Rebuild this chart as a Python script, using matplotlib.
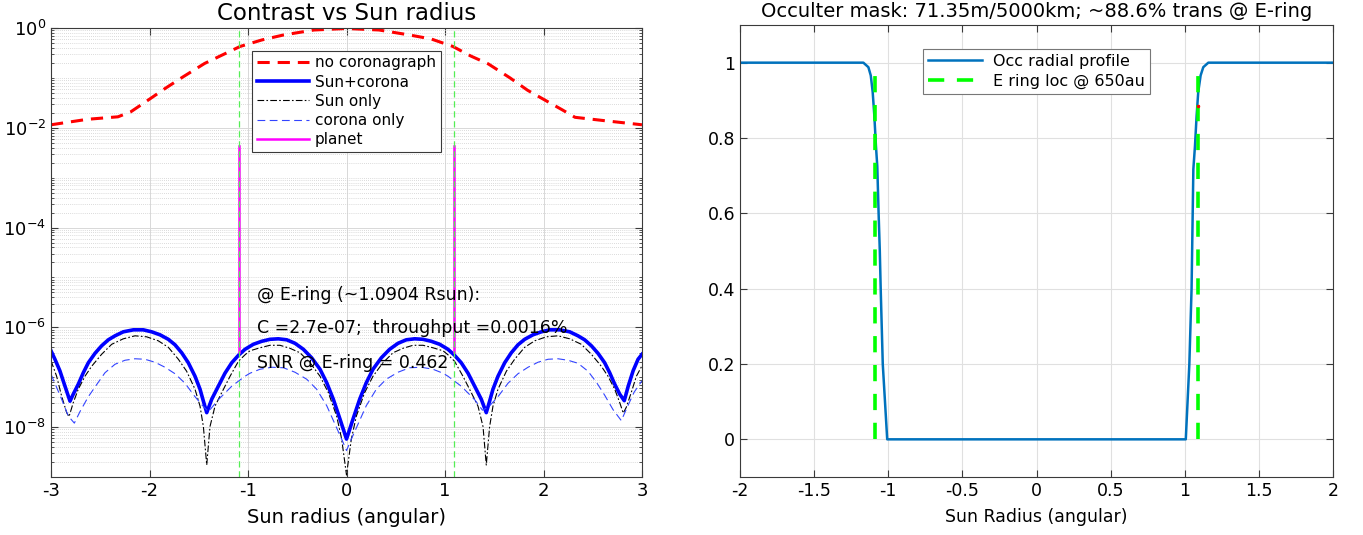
import numpy as np
import matplotlib.pyplot as plt
from matplotlib.ticker import FixedLocator, LogLocator, NullFormatter, FormatStrFormatter

plt.rcParams['font.family'] = 'DejaVu Sans'
plt.rcParams['axes.unicode_minus'] = False

# ---- left panel: contrast vs sun radius (values are log10 of contrast) ----
e_ring = 1.0904

x_nocor = [-3.0, -2.63, -2.32, -2.19, -2.01, -1.84, -1.66, -1.44, -1.26, -1.08, -0.86, -0.64, -0.33,
           0.0, 0.33, 0.64, 0.86, 1.08, 1.26, 1.44, 1.66, 1.84, 2.01, 2.19, 2.32, 2.63, 3.0]
log_nocor = [-1.94, -1.83, -1.78, -1.68, -1.44, -1.21, -0.98, -0.71, -0.54, -0.37, -0.24, -0.14, -0.04,
             -0.01, -0.04, -0.14, -0.22, -0.37, -0.56, -0.72, -1.0, -1.25, -1.44, -1.64, -1.79, -1.86, -1.94]

# Sun+corona
x_total = [-3.0, -2.96, -2.91, -2.858, -2.807, -2.774, -2.723, -2.672, -2.621, -2.553, -2.486, -2.418,
           -2.35, -2.266, -2.164, -2.063, -1.978, -1.893, -1.809, -1.741, -1.673, -1.606, -1.538,
           -1.487, -1.453, -1.419, -1.368, -1.301, -1.234, -1.165, -1.097, -1.03, -0.946, -0.861,
           -0.777, -0.692, -0.607, -0.523, -0.438, -0.354, -0.269, -0.201, -0.134, -0.066, 0.0,
           0.066, 0.134, 0.201, 0.269, 0.354, 0.438, 0.523, 0.607, 0.692, 0.777, 0.861, 0.946,
           1.03, 1.097, 1.165, 1.234, 1.301, 1.368, 1.419, 1.453, 1.487, 1.538, 1.606, 1.673,
           1.741, 1.809, 1.893, 1.978, 2.063, 2.164, 2.266, 2.35, 2.418, 2.486, 2.553, 2.621,
           2.672, 2.723, 2.774, 2.82, 2.86, 2.91, 2.96, 3.0]
log_total = [-6.47, -6.64, -6.87, -7.18, -7.48, -7.34, -7.14, -6.91, -6.71, -6.52, -6.37, -6.25,
             -6.17, -6.09, -6.05, -6.05, -6.09, -6.15, -6.24, -6.35, -6.51, -6.71, -6.98,
             -7.24, -7.48, -7.71, -7.44, -7.18, -6.92, -6.71, -6.56, -6.44, -6.34, -6.28,
             -6.24, -6.23, -6.25, -6.32, -6.44, -6.61, -6.84, -7.11, -7.44, -7.84, -8.24,
             -7.84, -7.44, -7.11, -6.84, -6.61, -6.44, -6.32, -6.25, -6.23, -6.24, -6.28, -6.34,
             -6.44, -6.56, -6.71, -6.92, -7.18, -7.44, -7.71, -7.48, -7.24, -6.98, -6.71, -6.51,
             -6.35, -6.24, -6.15, -6.09, -6.05, -6.05, -6.09, -6.17, -6.25, -6.37, -6.52, -6.71,
             -6.91, -7.14, -7.34, -7.47, -7.18, -6.87, -6.64, -6.54]

# Sun only
x_sun = [-3.0, -2.943, -2.892, -2.841, -2.817, -2.774, -2.723, -2.655, -2.587, -2.486, -2.384, -2.266,
         -2.147, -2.029, -1.911, -1.809, -1.707, -1.623, -1.538, -1.487, -1.453, -1.419, -1.386,
         -1.335, -1.267, -1.182, -1.097, -1.03, -0.98, -0.878, -0.777, -0.675, -0.574, -0.472,
         -0.37, -0.269, -0.184, -0.1, -0.049, 0.0,
         0.049, 0.1, 0.184, 0.269, 0.37, 0.472, 0.574, 0.675, 0.777, 0.878, 0.98, 1.03, 1.097,
         1.182, 1.267, 1.335, 1.386, 1.419, 1.453, 1.487, 1.538, 1.623, 1.707, 1.809, 1.911,
         2.029, 2.147, 2.266, 2.384, 2.486, 2.587, 2.655, 2.723, 2.774, 2.81, 2.841, 2.892,
         2.943, 3.0]
log_sun = [-6.67, -6.98, -7.38, -7.71, -7.79, -7.51, -7.24, -6.98, -6.78, -6.54, -6.34, -6.23,
           -6.17, -6.19, -6.27, -6.40, -6.64, -6.88, -7.24, -7.58, -7.99, -8.76, -7.99,
           -7.58, -7.31, -6.98, -6.68, -6.55, -6.47, -6.41, -6.36, -6.36, -6.42, -6.51,
           -6.71, -6.98, -7.31, -7.78, -8.24, -8.96,
           -8.24, -7.78, -7.31, -6.98, -6.71, -6.51, -6.42, -6.36, -6.36, -6.41, -6.47, -6.55, -6.68,
           -6.98, -7.31, -7.58, -7.99, -8.76, -7.99, -7.58, -7.24, -6.88, -6.64, -6.40, -6.27,
           -6.19, -6.17, -6.23, -6.34, -6.54, -6.78, -6.98, -7.24, -7.51, -7.72, -7.6, -7.3,
           -6.98, -6.77]

# corona only
x_corona = [-3.0, -2.892, -2.824, -2.763, -2.706, -2.621, -2.537, -2.452, -2.35, -2.249, -2.147,
            -2.046, -1.944, -1.843, -1.741, -1.64, -1.538, -1.47, -1.402, -1.301, -1.165, -1.03,
            -0.98, -0.878, -0.76, -0.641, -0.523, -0.404, -0.303, -0.201, -0.117, -0.049, 0.0,
            0.049, 0.117, 0.201, 0.303, 0.404, 0.523, 0.641, 0.76, 0.878, 0.98, 1.03, 1.165,
            1.301, 1.38, 1.44, 1.538, 1.64, 1.741, 1.843, 1.944, 2.046, 2.147, 2.249, 2.35,
            2.452, 2.537, 2.621, 2.706, 2.79, 2.85, 2.92, 3.0]
log_corona = [-6.94, -7.44, -7.78, -7.92, -7.69, -7.39, -7.15, -6.91, -6.74, -6.66, -6.63,
              -6.64, -6.70, -6.80, -6.93, -7.12, -7.39, -7.55, -7.69, -7.45, -7.18, -6.98,
              -6.92, -6.84, -6.80, -6.81, -6.90, -7.04, -7.24, -7.57, -7.94, -8.24, -8.47,
              -8.24, -7.94, -7.57, -7.24, -7.04, -6.90, -6.81, -6.80, -6.84, -6.92, -6.98, -7.18,
              -7.45, -7.66, -7.6, -7.39, -7.12, -6.93, -6.80, -6.70, -6.64, -6.63, -6.66, -6.72,
              -6.88, -7.1, -7.36, -7.65, -7.87, -7.6, -7.3, -7.07]

planet_x = [-e_ring, e_ring]
planet_top = 4.4e-3
planet_bottom = 3.2e-7

notes = ['@ E-ring (~1.0904 Rsun):',
         'C =2.7e-07;  throughput =0.0016%',
         'SNR @ E-ring = 0.462']
notes_log_y = [-5.35, -6.02, -6.71]

# ---- right panel: occulter radial profile ----
x_occ = [-2.0, -1.168, -1.134, -1.118, -1.105, -1.094, -1.083, -1.074, -1.065, -1.057, -1.051, -1.037,
         -1.007, 1.007, 1.031, 1.046, 1.058, 1.069, 1.080, 1.091, 1.107, 1.125, 1.159, 2.0]
y_occ = [1.0, 1.0, 0.988, 0.966, 0.922, 0.86, 0.779, 0.725, 0.6, 0.5, 0.4, 0.2,
         0.0, 0.0, 0.2, 0.4, 0.717, 0.779, 0.859, 0.922, 0.966, 0.988, 1.0, 1.0]
ring_top = 0.975
trans_at_ring = 0.886

fig = plt.figure(figsize=(13.63, 5.35), dpi=100)
W, H = 1363, 535
ax1 = fig.add_axes([51 / W, 1 - 477 / H, (642 - 51) / W, (477 - 28) / H])
ax2 = fig.add_axes([740 / W, 1 - 477 / H, (1333 - 740) / W, (477 - 25) / H])

spine_col = '#3a3a3a'

# left
ax1.set_yscale('log')
ax1.plot(x_nocor, 10 ** np.array(log_nocor), color='red', lw=2.2, ls=(0, (4, 2.6)), label='no coronagraph')
ax1.plot(x_total, 10 ** np.array(log_total), color='blue', lw=2.6, label='Sun+corona')
ax1.plot(x_sun, 10 ** np.array(log_sun), color='black', lw=0.8, ls=(0, (6, 2, 1.5, 2)), label='Sun only')
ax1.plot(x_corona, 10 ** np.array(log_corona), color='#3344ff', lw=0.8, ls=(0, (7, 4)), label='corona only')
for i, px in enumerate(planet_x):
    ax1.plot([px, px], [planet_bottom, planet_top], color='magenta', lw=1.8,
             label='planet' if i == 0 else None)
    ax1.plot([px, px], [1e-9, 1], color='#55ee55', lw=0.9, ls=(0, (5, 3)))

for t, ly in zip(notes, notes_log_y):
    ax1.text(-0.905, 10 ** ly, t, fontsize=12.5, ha='left', va='center')

ax1.set_xlim(-3, 3)
ax1.set_ylim(1e-9, 1)
ax1.xaxis.set_major_locator(FixedLocator([-3, -2, -1, 0, 1, 2, 3]))
ax1.yaxis.set_major_locator(FixedLocator([1e-8, 1e-6, 1e-4, 1e-2, 1]))
ax1.set_yticklabels([r'$10^{-8}$', r'$10^{-6}$', r'$10^{-4}$', r'$10^{-2}$', r'$10^{0}$'])
ax1.yaxis.set_minor_locator(LogLocator(base=10, subs=np.arange(1, 10), numticks=100))
ax1.yaxis.set_minor_formatter(NullFormatter())
ax1.grid(True, which='major', color='#d8d8d8', lw=0.7)
ax1.grid(True, which='minor', axis='y', color='#cfcfcf', lw=0.6, ls=(0, (1, 1.5)))
ax1.tick_params(which='both', direction='in', top=True, right=True, labelsize=13, colors=spine_col,
                labelcolor='black')
ax1.tick_params(which='major', length=5)
ax1.tick_params(which='minor', length=2.5)
ax1.set_title('Contrast vs Sun radius', fontsize=16.5, pad=6)
ax1.set_xlabel('Sun radius (angular)', fontsize=14, labelpad=6)
leg1 = ax1.legend(loc='upper center', bbox_to_anchor=(0.5, 1 - 15 / 449), fontsize=11,
                  handlelength=3.4, labelspacing=0.28, borderpad=0.3, handletextpad=0.4,
                  fancybox=False, framealpha=1, edgecolor=spine_col)
leg1.get_frame().set_linewidth(0.8)

# right
ax2.plot(x_occ, y_occ, color='#0072BD', lw=1.8, label='Occ radial profile')
for i, px in enumerate(planet_x):
    ax2.plot([px, px], [0, ring_top], color='#00ff00', lw=2.6, ls=(0, (4.5, 3.5)),
             label='E ring loc @ 650au' if i == 0 else None)
ax2.plot([e_ring], [trans_at_ring], 'r.', ms=3)
ax2.set_xlim(-2, 2)
ax2.set_ylim(-0.1, 1.1)
ax2.xaxis.set_major_locator(FixedLocator([-2, -1.5, -1, -0.5, 0, 0.5, 1, 1.5, 2]))
ax2.yaxis.set_major_locator(FixedLocator([0, 0.2, 0.4, 0.6, 0.8, 1]))
ax2.xaxis.set_major_formatter(FormatStrFormatter('%g'))
ax2.yaxis.set_major_formatter(FormatStrFormatter('%g'))
ax2.grid(True, color='#e0e0e0', lw=0.8)
ax2.tick_params(direction='in', top=True, right=True, length=5, labelsize=12.5, colors=spine_col,
                labelcolor='black')
ax2.set_title('Occulter mask: 71.35m/5000km; ~88.6% trans @ E-ring', fontsize=14, pad=6)
ax2.set_xlabel('Sun Radius (angular)', fontsize=12.5, labelpad=6)
leg2 = ax2.legend(loc='upper center', bbox_to_anchor=(0.5, 1 - 16 / 452), fontsize=11.5,
                  handlelength=3.4, labelspacing=0.3, borderpad=0.3, handletextpad=0.7,
                  fancybox=False, framealpha=1, edgecolor='#777777')
leg2.get_frame().set_linewidth(0.8)

for ax in (ax1, ax2):
    for s in ax.spines.values():
        s.set_color(spine_col)
        s.set_linewidth(0.8)
    ax.set_axisbelow(True)

fig.savefig('out.png', dpi=100)
